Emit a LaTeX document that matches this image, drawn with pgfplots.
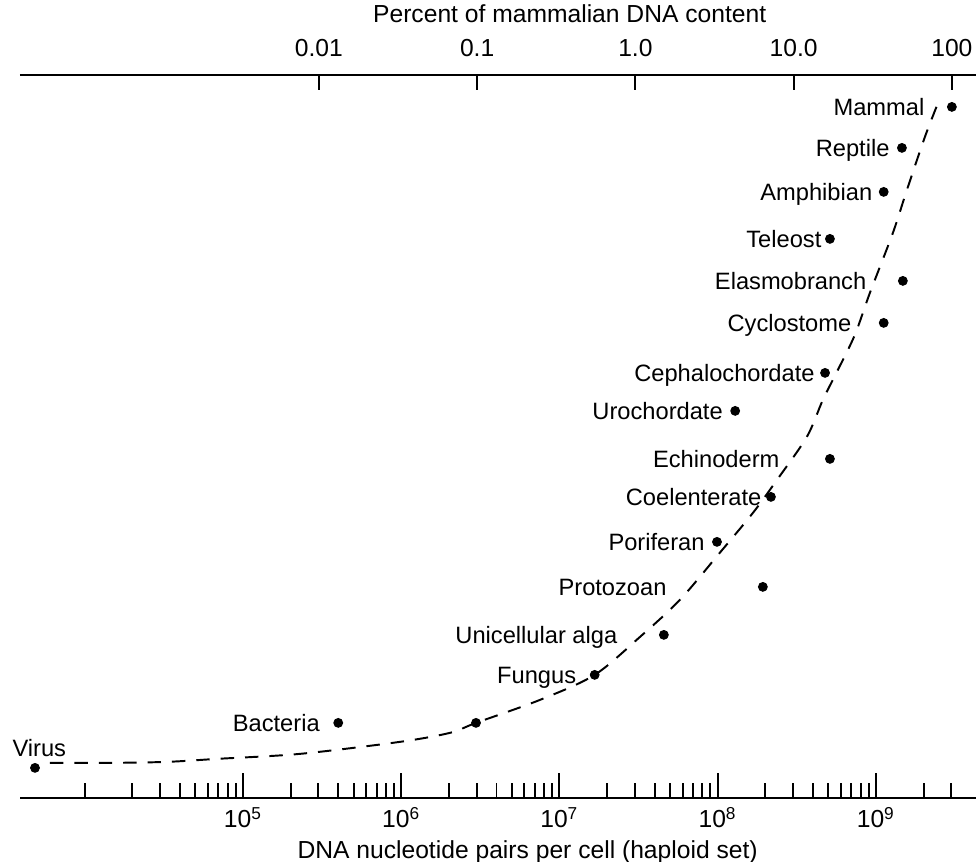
\documentclass[border=0pt]{standalone}
\usepackage{pgfplots}
\pgfplotsset{compat=1.18}
\usepackage{fontspec}
\setmainfont{Liberation Sans}
\newcommand{\tfont}{\fontsize{10.1}{12}\selectfont}
\newcommand{\lfont}{\fontsize{9.7}{11.5}\selectfont}
\tikzset{lab/.style={font=\lfont, inner sep=0pt, anchor=base east, yshift=-3.5pt}}

\pgfplotstableread{
N y
4.85e3 30
4.0e5 75
2.97e6 75
1.67e7 123
4.57e7 163
1.93e8 211
9.9e7 256
2.17e8 301
5.12e8 339
1.29e8 387
4.77e8 425
1.12e9 475
1.48e9 517
5.12e8 559
1.12e9 606
1.46e9 650
3.02e9 691
}\organisms

\pgfplotstableread{
N y
6.03e3 35
1.45e4 35
3.31e4 36
6.86e4 39
2.29e5 44
9.8e5 56
2.03e6 65
2.97e6 75
7.54e6 98
1.67e7 123
3.23e7 161
5.77e7 198
1.03e8 245
1.67e8 285
2.37e8 318
3.66e8 361
4.62e8 398
5.75e8 428
7.36e8 463
9.16e8 505
1.28e9 565
1.57e9 608
2.04e9 661
2.47e9 695
}\trend

\begin{document}
\begin{tikzpicture}
\useasboundingbox (-8.2pt,-26.2pt) rectangle (391.8pt,327.0pt);
\begin{axis}[
  scale only axis, width=391.8pt, height=296.3pt,
  xmode=log, xmin=3.90e3, xmax=4.29e9, ymin=0, ymax=723,
  axis x line=bottom, axis y line=none,
  axis line style={-, line width=0.8pt, black},
  xtick={1e5,1e6,1e7,1e8,1e9},
  xticklabels={10\textsuperscript{5},10\textsuperscript{6},10\textsuperscript{7},10\textsuperscript{8},10\textsuperscript{9}},
  xminorticks=true,
  minor xtick={1e4,2e4,3e4,4e4,5e4,6e4,7e4,8e4,9e4,
    2e5,3e5,4e5,5e5,6e5,7e5,8e5,9e5,
    2e6,3e6,4e6,5e6,6e6,7e6,8e6,9e6,
    2e7,3e7,4e7,5e7,6e7,7e7,8e7,9e7,
    2e8,3e8,4e8,5e8,6e8,7e8,8e8,9e8,
    2e9,3e9},
  xtick align=inside,
  major tick length=10.2pt, minor tick length=6.1pt,
  every tick/.style={black, line width=0.8pt},
  xticklabel style={font=\tfont, anchor=base, yshift=-12.3pt},
  xlabel={DNA nucleotide pairs per cell (haploid set)},
  xlabel style={font=\tfont, at={(axis description cs:0.531,0)}, anchor=base, yshift=-24.8pt},
  clip=false,
]
\addplot[black, line width=0.8pt, dash pattern=on 5.5pt off 4.5pt, smooth, tension=0.5] table[x=N, y=y] {\trend};
\addplot[only marks, mark=*, mark size=1.8pt, black] table[x=N, y=y] {\organisms};

\node[font=\lfont, inner sep=0pt, anchor=base west, xshift=-9.4pt, yshift=4.7pt] at (axis cs:4.85e3,30) {Virus};
\node[lab, xshift=-7.4pt] at (axis cs:4.0e5,75) {Bacteria};
\node[lab, xshift=-7.4pt] at (axis cs:1.67e7,123) {Fungus};
\node[lab, xshift=-18.9pt] at (axis cs:4.57e7,163) {Unicellular alga};
\node[lab, xshift=-39.3pt] at (axis cs:1.93e8,211) {Protozoan};
\node[lab, xshift=-4.9pt] at (axis cs:9.9e7,256) {Poriferan};
\node[lab, xshift=-3.7pt] at (axis cs:2.17e8,301) {Coelenterate};
\node[lab, xshift=-20.5pt] at (axis cs:5.12e8,339) {Echinoderm};
\node[lab, xshift=-4.9pt] at (axis cs:1.29e8,387) {Urochordate};
\node[lab, xshift=-4.1pt] at (axis cs:4.77e8,425) {Cephalochordate};
\node[lab, xshift=-13.1pt] at (axis cs:1.12e9,475) {Cyclostome};
\node[lab, xshift=-14.8pt] at (axis cs:1.48e9,517) {Elasmobranch};
\node[lab, xshift=-3.3pt] at (axis cs:5.12e8,559) {Teleost};
\node[lab, xshift=-4.5pt] at (axis cs:1.12e9,606) {Amphibian};
\node[lab, xshift=-4.9pt] at (axis cs:1.46e9,650) {Reptile};
\node[lab, xshift=-11.1pt] at (axis cs:3.02e9,691) {Mammal};
\end{axis}

\begin{axis}[
  scale only axis, width=391.8pt, height=296.3pt,
  xmode=log, xmin=1.2914e-4, xmax=142.05, ymin=0, ymax=723,
  axis x line=top, axis y line=none,
  axis line style={-, line width=0.8pt, black},
  xtick={0.01,0.1,1,10,100},
  xticklabels={0.01,0.1,1.0,10.0,100},
  xminorticks=false,
  xtick align=inside,
  major tick length=6.1pt,
  every tick/.style={black, line width=0.8pt},
  xticklabel style={font=\tfont, anchor=base, yshift=7.4pt},
  xlabel={Percent of mammalian DNA content},
  xlabel style={font=\tfont, at={(axis description cs:0.575,1)}, anchor=base, yshift=21.3pt},
]
\end{axis}
\end{tikzpicture}
\end{document}
